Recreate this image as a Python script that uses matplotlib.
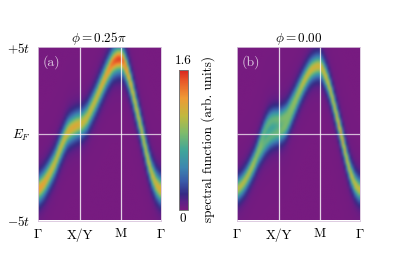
import numpy as np
import matplotlib
matplotlib.use("Agg")
import matplotlib.pyplot as plt
from matplotlib.colors import LinearSegmentedColormap

plt.rcParams['font.family'] = ['cmr10', 'DejaVu Serif']
plt.rcParams['mathtext.fontset'] = 'cm'
plt.rcParams['axes.unicode_minus'] = False
plt.rcParams['axes.formatter.use_mathtext'] = True

tick_labels = [r'$\Gamma$', 'X/Y', 'M', r'$\Gamma$']
tick_pos = [0.0, 0.34, 0.674, 1.0]
ylabels = [r'$-5t$', r'$E_F$', r'$+5t$']
yticks = [-5, 0, 5]
vmax = 1.6

band_a = [-3.25,-3.13,-3.0,-2.83,-2.63,-2.42,-2.19,-1.96,-1.71,-1.40,-1.08,-.79,-.50,-.23,0,.15,.25,.33,.40,.46,
          .50,.56,.63,.77,.92,1.17,1.40,1.65,1.90,2.17,2.46,2.73,3.0,3.27,3.52,3.75,3.96,4.12,4.21,4.27,
          4.29,4.25,4.12,3.83,3.48,3.06,2.62,2.12,1.60,1.10,.60,.06,-.46,-1.0,-1.52,-1.96,-2.38,-2.67,-2.96,-3.13,-3.29]
height_a = [1.2,1.2,1.18,1.16,1.13,1.1,1.08,1.06,1.05,1.05,1.05,1.05,1.06,1.08,1.1,1.12,1.14,1.14,1.14,1.12,
            1.1,1.08,1.06,1.05,1.05,1.05,1.05,1.05,1.06,1.08,1.1,1.12,1.14,1.17,1.2,1.26,1.32,1.38,1.42,1.45,
            1.45,1.4,1.32,1.26,1.2,1.15,1.12,1.1,1.08,1.06,1.05,1.05,1.05,1.05,1.05,1.05,1.06,1.08,1.1,1.12,1.14]

band_b_up = [-3.25,-3.13,-3.0,-2.83,-2.63,-2.40,-2.15,-1.88,-1.60,-1.26,-.90,-.55,-.20,.12,.38,.58,.72,.80,.84,.85,
             .86,.88,.92,1.0,1.12,1.32,1.55,1.78,2.0,2.25,2.5,2.73,2.95,3.15,3.35,3.53,3.68,3.78,3.85,3.9,
             3.92,3.88,3.75,3.48,3.2,2.85,2.45,2.0,1.52,1.02,.52,.02,-.48,-1.0,-1.52,-1.96,-2.38,-2.67,-2.96,-3.13,-3.29]
band_b_lo = [-3.25,-3.13,-3.02,-2.87,-2.70,-2.50,-2.29,-2.06,-1.85,-1.60,-1.35,-1.12,-.92,-.72,-.55,-.40,-.28,-.2,-.13,-.08,
             -.04,.02,.1,.22,.38,.62,.9,1.2,1.5,1.8,2.1,2.4,2.68,2.95,3.18,3.4,3.58,3.7,3.78,3.83,
             3.85,3.8,3.65,3.4,3.1,2.75,2.35,1.9,1.42,.94,.46,-.03,-.52,-1.03,-1.53,-1.97,-2.38,-2.67,-2.96,-3.13,-3.29]
height_b = [.5,.5,.5,.5,.5,.5,.5,.5,.5,.5,.52,.56,.6,.62,.64,.66,.66,.66,.66,.66,
            .66,.66,.66,.66,.64,.62,.6,.58,.56,.55,.54,.54,.54,.54,.54,.54,.54,.54,.54,.54,
            .54,.54,.54,.54,.54,.53,.53,.53,.53,.55,.58,.6,.58,.55,.53,.52,.52,.52,.52,.52,.52]
core_a, halo_a = 0.36, 0.68
core_b, halo_b = 0.30, 0.60

energy = np.linspace(-5, 5, 90)
cmap = LinearSegmentedColormap.from_list('spec', [
    (0.00, '#771b80'), (0.05, '#5f1f86'), (0.11, '#352a84'), (0.20, '#3a5aa8'), (0.30, '#3d86b0'),
    (0.42, '#3fa59a'), (0.55, '#7fbb6b'), (0.67, '#c0b93f'), (0.80, '#ee9a35'), (0.92, '#e85a28'), (1.00, '#d8241f')])


def spectrum(bands, heights, core, halo):
    img = np.zeros((energy.size, len(heights)))
    h = np.asarray(heights)[None, :]
    for band in bands:
        d = energy[:, None] - np.asarray(band)[None, :]
        img += h * (0.55 * np.exp(-d**2 / (2 * core**2)) + 0.45 * np.exp(-d**2 / (2 * halo**2))
                    + 0.05 / (1 + (d / 1.4)**2))
    return img


fig = plt.figure(figsize=(3.99, 2.80), dpi=100)
W, H = 399.0, 280.0


def add_axes(x0, x1, y0, y1):
    return fig.add_axes([x0 / W, 1 - y1 / H, (x1 - x0) / W, (y1 - y0) / H])


ax_a = add_axes(38, 160.5, 47, 220.5)
ax_b = add_axes(237, 360, 47, 220.5)
cax = add_axes(179, 187.5, 70, 209.5)

panels = [(ax_a, spectrum([band_a], height_a, core_a, halo_a), r'$\phi = 0.25\pi$', '(a)'),
          (ax_b, spectrum([band_b_up, band_b_lo], height_b, core_b, halo_b), r'$\phi = 0.00$', '(b)')]
for ax, img, title, tag in panels:
    im = ax.imshow(img, origin='lower', extent=[0, 1, -5, 5], aspect='auto', cmap=cmap,
                   vmin=0, vmax=vmax, interpolation='bicubic')
    for x in tick_pos[1:3]:
        ax.axvline(x, color='white', lw=0.9, alpha=0.8)
    ax.axhline(0, color='white', lw=0.9, alpha=0.7)
    ax.set_xticks(tick_pos)
    ax.set_xticklabels(tick_labels, fontsize=9.5)
    ax.tick_params(axis='x', length=0, pad=5.5)
    ax.tick_params(axis='y', length=0, pad=5.5)
    ax.set_title(title, fontsize=9.5, pad=2.5)
    ax.text(0.035, 0.915, tag, transform=ax.transAxes, color='#ddc8e0', fontsize=10, va='center')
    for s in ax.spines.values():
        s.set_color('#d8c4dc')
        s.set_linewidth(0.6)
ax_a.set_yticks(yticks)
ax_a.set_yticklabels(ylabels, fontsize=9.5)
ax_b.set_yticks([])

cb = fig.colorbar(im, cax=cax)
cb.set_ticks([])
cb.outline.set_edgecolor('#777777')
cb.outline.set_linewidth(0.7)
cax.text(0.5, 1.02, '1.6', transform=cax.transAxes, ha='center', va='bottom', fontsize=9.5)
cax.text(0.5, -0.025, '0', transform=cax.transAxes, ha='center', va='top', fontsize=9.5)
fig.text(208 / W, 1 - 139 / H, 'spectral function (arb. units)', rotation=90,
         ha='center', va='center', fontsize=9.5)

fig.savefig('out.png', dpi=100)
